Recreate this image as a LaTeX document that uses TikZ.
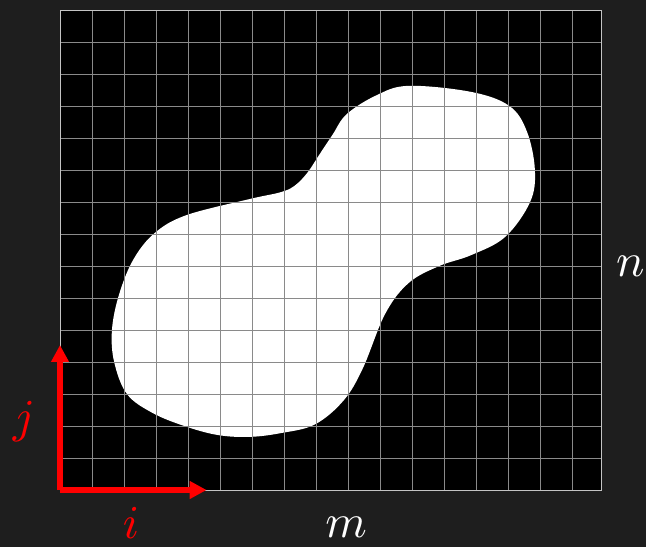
\documentclass[tikz,border=0pt]{standalone}
\usetikzlibrary{arrows.meta}
\definecolor{bgdark}{HTML}{1E1E1E}
\definecolor{gridgray}{HTML}{8A8A8A}
\definecolor{framegray}{HTML}{C4C4C4}
\begin{document}
\begin{tikzpicture}[x=0.996cm, y=1cm,
    every node/.style={scale=4.2, inner sep=0pt},
    gridlines/.style={draw=gridgray, line width=0.8pt},
    gridframe/.style={draw=framegray, line width=0.8pt},
    blob/.style={fill=white},
    axis/.style={-{Triangle[length=15pt, width=15pt]}, red, line width=4.6pt}]
\fill[bgdark] (-1.8825,-1.781) rectangle (18.386,15.3125);
\useasboundingbox (-1.8825,-1.781) rectangle (18.386,15.3125);
\fill[black] (0,0) rectangle (17,15);
\fill[blob] plot[smooth cycle, tension=0.6] coordinates {
    (10.94,12.63) (12.9,12.44) (14.1,12.0) (14.65,11.2) (14.9,10.0)
    (14.75,9.0) (13.97,7.91) (12.9,7.34) (11.9,7.0) (10.94,6.47)
    (10.2,5.5) (9.5,3.8) (8.9,2.8) (8.0,2.05) (6.94,1.78) (5.94,1.66)
    (4.94,1.72) (3.9,2.0) (2.9,2.41) (2.1,3.0) (1.7,4.0) (1.63,5.0)
    (1.85,6.1) (2.3,7.2) (2.97,8.03) (3.97,8.59) (5.94,9.09) (6.9,9.3)
    (7.35,9.5) (7.75,9.9) (8.15,10.5) (8.55,11.1) (9.0,11.75) (9.94,12.34)};
\draw[gridlines] (0,0) grid (17,15);
\draw[gridframe] (0,0) rectangle (17,15);
\coordinate (o) at (0,0);
\coordinate (iend) at (4.6,0);
\coordinate (jend) at (0,4.53);
\draw[axis] (o) -- (iend);
\draw[axis] (o) -- (jend);
\node[red] (ilabel) at (2.23,-1.02) {$i$};
\node[red] (jlabel) at (-1.13,2.14) {$j$};
\node[white] (mlabel) at (8.98,-1.18) {$m$};
\node[white] (nlabel) at (17.89,7.0) {$n$};
\end{tikzpicture}
\end{document}
